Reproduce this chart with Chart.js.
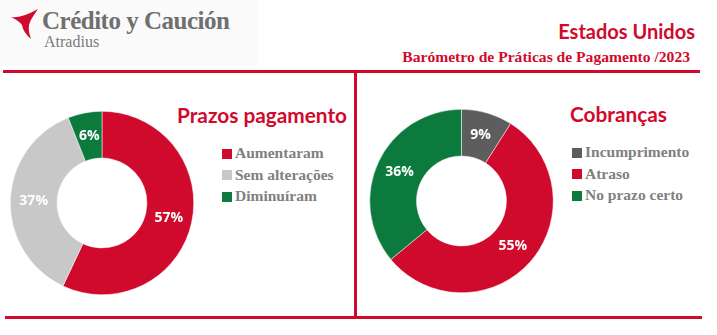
<!DOCTYPE html>
<html>
<head>
<meta charset="utf-8">
<script src="https://cdn.jsdelivr.net/npm/chart.js@4.4.0/dist/chart.umd.min.js"></script>
<style>
    body { margin: 0; background: #fff; width: 717px; height: 335px; position: relative; overflow: hidden; }
    .abs { position: absolute; }
    #logoBox { left: 0; top: 0; width: 258px; height: 66px; background: #fafafa; }
    #brand { left: 42px; top: 7px; font: bold 25px "Liberation Serif", serif; color: #6f6f6f; letter-spacing: -0.5px; white-space: nowrap; }
    #brandSub { left: 44px; top: 33px; font: 16px "Liberation Serif", serif; color: #7a7a7a; }
    #country { right: 22px; top: 19px; font: bold 20px Lato, sans-serif; color: #cf0a2c; }
    #subtitle { right: 27px; top: 48px; font: bold 15.6px "Liberation Serif", serif; color: #cf0a2c; white-space: nowrap; }
    .rule { background: #cf0a2c; }
    .panelTitle { font: bold 20.8px Lato, sans-serif; color: #cf0a2c; white-space: nowrap; }
    .legend { font: bold 15.5px "Liberation Serif", serif; color: #808080; line-height: 21.5px; white-space: nowrap; }
    .legend span.box { display: inline-block; width: 10px; height: 10px; margin-right: 3px; vertical-align: -0.5px; }
</style>
</head>
<body>
<div id="logoBox" class="abs"></div>
<svg class="abs" style="left:10px;top:8px" width="30" height="32" viewBox="0 0 30 32">
    <path d="M1 9 Q10 11 28 1 Q20 12 19 17 Q18 23 21 31 Q13 24 12 17 Q8 12 1 9 Z" fill="#cf0a2c"/>
</svg>
<div id="brand" class="abs">Crédito y Caución</div>
<div id="brandSub" class="abs">Atradius</div>
<div id="country" class="abs">Estados Unidos</div>
<div id="subtitle" class="abs">Barómetro de Práticas de Pagamento /2023</div>

<div class="abs rule" style="left:3px;top:70px;width:697px;height:3px"></div>
<div class="abs rule" style="left:354px;top:72px;width:3px;height:246px"></div>
<div class="abs rule" style="left:5px;top:316px;width:697px;height:3px"></div>

<div id="title1" class="abs panelTitle" style="left:177px;top:102px">Prazos pagamento</div>
<div id="legend1" class="abs legend" style="left:222px;top:142px"></div>
<div id="title2" class="abs panelTitle" style="left:570px;top:101px">Cobranças</div>
<div id="legend2" class="abs legend" style="left:572px;top:141px"></div>

<div class="abs" style="left:0;top:75px;width:355px;height:240px"><canvas id="chart1"></canvas></div>
<div class="abs" style="left:358px;top:75px;width:359px;height:240px"><canvas id="chart2"></canvas></div>

<script>
// prazos pagamento
const prazosLabels = ['Aumentaram', 'Sem alterações', 'Diminuíram'];
const prazosValues = [57, 37, 6];
const prazosColors = ['#cf0a2c', '#c8c8c8', '#0b7a3c'];

// cobrancas
const cobrancasLabels = ['Incumprimento', 'Atraso', 'No prazo certo'];
const cobrancasValues = [9, 55, 36];
const cobrancasColors = ['#5d5d5d', '#cf0a2c', '#0b7a3c'];

// white % labels in the middle of each slice
const sliceLabels = {
    id: 'sliceLabels',
    afterDatasetsDraw(chart) {
        const ctx = chart.ctx;
        const meta = chart.getDatasetMeta(0);
        ctx.save();
        ctx.fillStyle = '#fff';
        ctx.font = 'bold 14px "Open Sans", sans-serif';
        ctx.textAlign = 'center';
        ctx.textBaseline = 'middle';
        meta.data.forEach((arc, i) => {
            const pos = arc.tooltipPosition();
            ctx.fillText(chart.data.datasets[0].data[i] + '%', pos.x, pos.y);
        });
        ctx.restore();
    }
};

function makeLegend(id, labels, colors) {
    const el = document.getElementById(id);
    el.innerHTML = labels.map((l, i) =>
        `<div><span class="box" style="background:${colors[i]}"></span>${l}</div>`).join('');
}

function makeDonut(id, labels, values, colors, padding) {
    const ctx = document.getElementById(id).getContext('2d');
    return new Chart(ctx, {
        type: 'doughnut',
        data: {
            labels: labels,
            datasets: [{
                data: values,
                backgroundColor: colors,
                borderColor: '#ffffff',
                borderWidth: 0.5
            }]
        },
        options: {
            responsive: true,
            maintainAspectRatio: false,
            animation: false,
            cutout: '49%',
            layout: { padding: padding },
            plugins: {
                legend: { display: false },
                tooltip: { enabled: false }
            }
        },
        plugins: [sliceLabels]
    });
}

makeLegend('legend1', prazosLabels, prazosColors);
makeLegend('legend2', cobrancasLabels, cobrancasColors);

makeDonut('chart1', prazosLabels, prazosValues, prazosColors, { left: 10, right: 161, top: 36, bottom: 20 });
makeDonut('chart2', cobrancasLabels, cobrancasValues, cobrancasColors, { left: 11.5, right: 163.5, top: 34, bottom: 22 });
</script>
</body>
</html>
